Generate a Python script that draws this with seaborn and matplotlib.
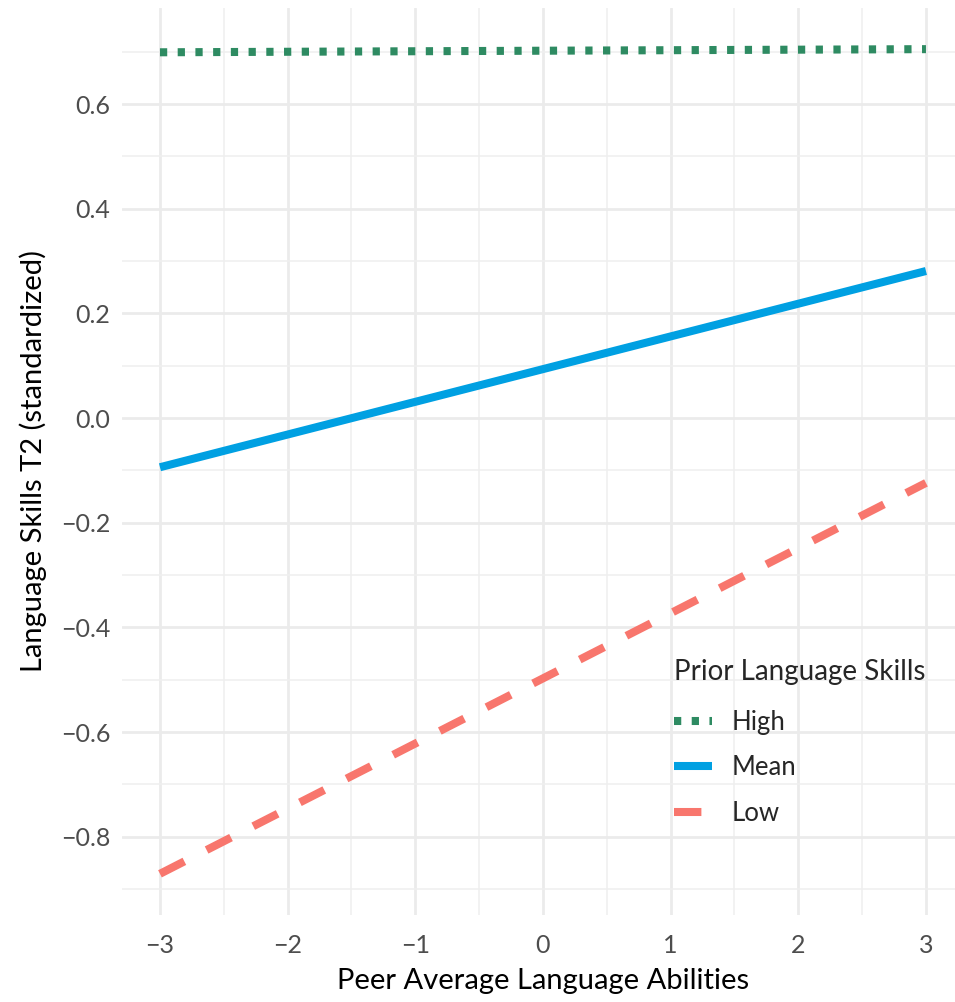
import matplotlib
matplotlib.use("Agg")
import matplotlib.pyplot as plt
import matplotlib.ticker as mticker
import numpy as np
import pandas as pd
import seaborn as sns

# values (straight lines, endpoints only)
peer_x = [-3, 3]
high_y = [0.699, 0.705]
mean_y = [-0.094, 0.281]
low_y = [-0.871, -0.124]

groups = ["High", "Mean", "Low"]
colors = {"High": "#2E8B62", "Mean": "#00A0E2", "Low": "#F8766D"}
dash_styles = {"High": (0.9, 1.3), "Mean": "", "Low": (3.4, 3.1)}

x_ticks = [-3, -2, -1, 0, 1, 2, 3]
y_ticks = [0.6, 0.4, 0.2, 0.0, -0.2, -0.4, -0.6, -0.8]

df = pd.DataFrame({
    "peer": peer_x * 3,
    "skills": high_y + mean_y + low_y,
    "prior": ["High"] * 2 + ["Mean"] * 2 + ["Low"] * 2,
})

sns.set_style("white")
plt.rcParams["font.family"] = ["Lato", "DejaVu Sans"]

fig = plt.figure(figsize=(9.55, 10.02), dpi=100)
ax = fig.add_axes([0.1274, 0.0872, 0.8823, 0.905])

sns.lineplot(data=df, x="peer", y="skills", hue="prior", style="prior",
             hue_order=groups, style_order=groups, palette=colors,
             dashes=dash_styles, linewidth=5.8, ax=ax, legend=True)
for line in ax.get_lines():
    line.set_solid_capstyle("butt")
    line.set_dash_capstyle("butt")

# ggplot-like expanded limits
ax.set_xlim(-3.3, 3.3)
ax.set_ylim(-0.949, 0.784)
ax.set_xticks(x_ticks)
ax.set_yticks(y_ticks)
ax.xaxis.set_minor_locator(mticker.MultipleLocator(0.5))
ax.yaxis.set_minor_locator(mticker.FixedLocator([0.7, 0.5, 0.3, 0.1, -0.1, -0.3, -0.5, -0.7, -0.9]))
ax.yaxis.set_major_formatter(mticker.FuncFormatter(lambda v, p: f"{v:.1f}".replace("-", "\u2212")))
ax.xaxis.set_major_formatter(mticker.FuncFormatter(lambda v, p: f"{v:.0f}".replace("-", "\u2212")))

ax.grid(True, which="major", color="#EBEBEB", linewidth=2.0)
ax.grid(True, which="minor", color="#EFEFEF", linewidth=1.1)
ax.set_axisbelow(True)
for s in ax.spines.values():
    s.set_visible(False)
ax.tick_params(which="both", length=0, labelsize=18, labelcolor="#4D4D4D")
ax.tick_params(axis="x", pad=14)
ax.tick_params(axis="y", pad=8)

ax.set_xlabel("Peer Average Language Abilities", fontsize=21, color="black", labelpad=8)
ax.set_ylabel("Language Skills T2 (standardized)", fontsize=21, color="black", labelpad=10)

handles, labels = ax.get_legend_handles_labels()
leg = ax.legend(handles=handles, labels=labels, title="Prior Language Skills",
                loc="upper left", bbox_to_anchor=(661 / 955, 1 - 646 / 1002),
                bbox_transform=fig.transFigure, frameon=False, fontsize=18.5,
                title_fontsize=20, handlelength=1.5, handletextpad=0.75,
                labelspacing=0.8, alignment="left", borderpad=0)
leg._legend_box.sep = 18
for h in leg.legend_handles:
    h.set_linewidth(5.8)

fig.savefig("out.png", dpi=100)
